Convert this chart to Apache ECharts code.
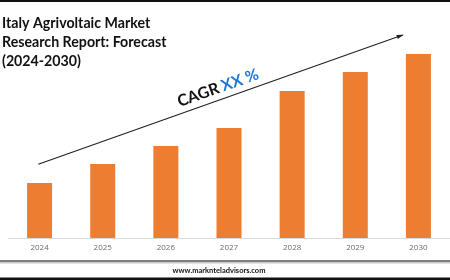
<!DOCTYPE html>
<html><head><meta charset="utf-8">
<script src="https://cdn.jsdelivr.net/npm/echarts@6/dist/echarts.min.js"></script>
<style>html,body{margin:0;padding:0;background:#fff}#c{width:450px;height:280px}</style>
</head><body><div id="c"></div>
<script>
const years = ['2024','2025','2026','2027','2028','2029','2030'];
const marketValues = [55, 74, 92, 110, 147, 166, 184];
const titleLines = ['Italy Agrivoltaic Market', 'Research Report: Forecast', '(2024-2030)'];
const cagrLabel = 'CAGR';
const cagrValue = 'XX %';
const footerText = 'www.marknteladvisors.com';

const chart = echarts.init(document.getElementById('c'), null, {renderer:'canvas'});
const ang = Math.atan2(164.3-35, 402.7-38.3);
const ex = 402.7, ey = 35;
const ah = 6, aw = 2.2;
const ux = Math.cos(ang), uy = -Math.sin(ang);
chart.setOption({
  animation:false,
  grid:{left:8, right:-2, top:38, bottom:42, containLabel:false},
  xAxis:{type:'category', data:years,
    axisLine:{lineStyle:{color:'#d9d9d9', width:1}},
    axisTick:{show:false},
    axisLabel:{color:'#6b6b6b', fontSize:8, fontFamily:'Open Sans', margin:6}},
  yAxis:{type:'value', min:0, max:200, show:false, splitLine:{show:false}},
  series:[{type:'bar', data:marketValues, barWidth:25, itemStyle:{color:'#ED7D31'}}],
  graphic:[
    {type:'rect', shape:{x:0,y:0,width:450,height:2}, style:{fill:'#111'}},
    {type:'text', left:2, top:14, style:{text:titleLines.join('\n'), font:'bold 14.2px Lato', lineHeight:19, fill:'#111'}},
    {type:'line', shape:{x1:38.3,y1:164.3,x2:ex,y2:ey}, style:{stroke:'#222', lineWidth:1.2}},
    {type:'polygon', shape:{points:[[ex+ux*1,ey+uy*1],[ex-ux*ah - uy*aw, ey-uy*ah + ux*aw],[ex-ux*ah + uy*aw, ey-uy*ah - ux*aw]]}, style:{fill:'#222'}},
    {type:'text', x:218, y:88, rotation:ang, originX:0, originY:0,
      style:{text:'{a|'+cagrLabel+'} {b|'+cagrValue+'}', align:'center', verticalAlign:'middle',
        rich:{a:{font:'bold 16px Lato', fill:'#111'}, b:{font:'bold 16px Lato', fill:'#1F78D1'}}}},
    {type:'rect', shape:{x:0,y:260,width:450,height:2}, style:{fill:'#7f7f7f'}},
    {type:'rect', shape:{x:0,y:262,width:450,height:1.5}, style:{fill:'#c8c8c8'}},
    {type:'text', x:219, y:270.5, style:{text:footerText, align:'center', verticalAlign:'middle', font:'bold 7.5px Lato', fill:'#111'}},
    {type:'rect', shape:{x:0,y:277.5,width:450,height:3}, style:{fill:'#111'}}
  ]
});
</script></body></html>
